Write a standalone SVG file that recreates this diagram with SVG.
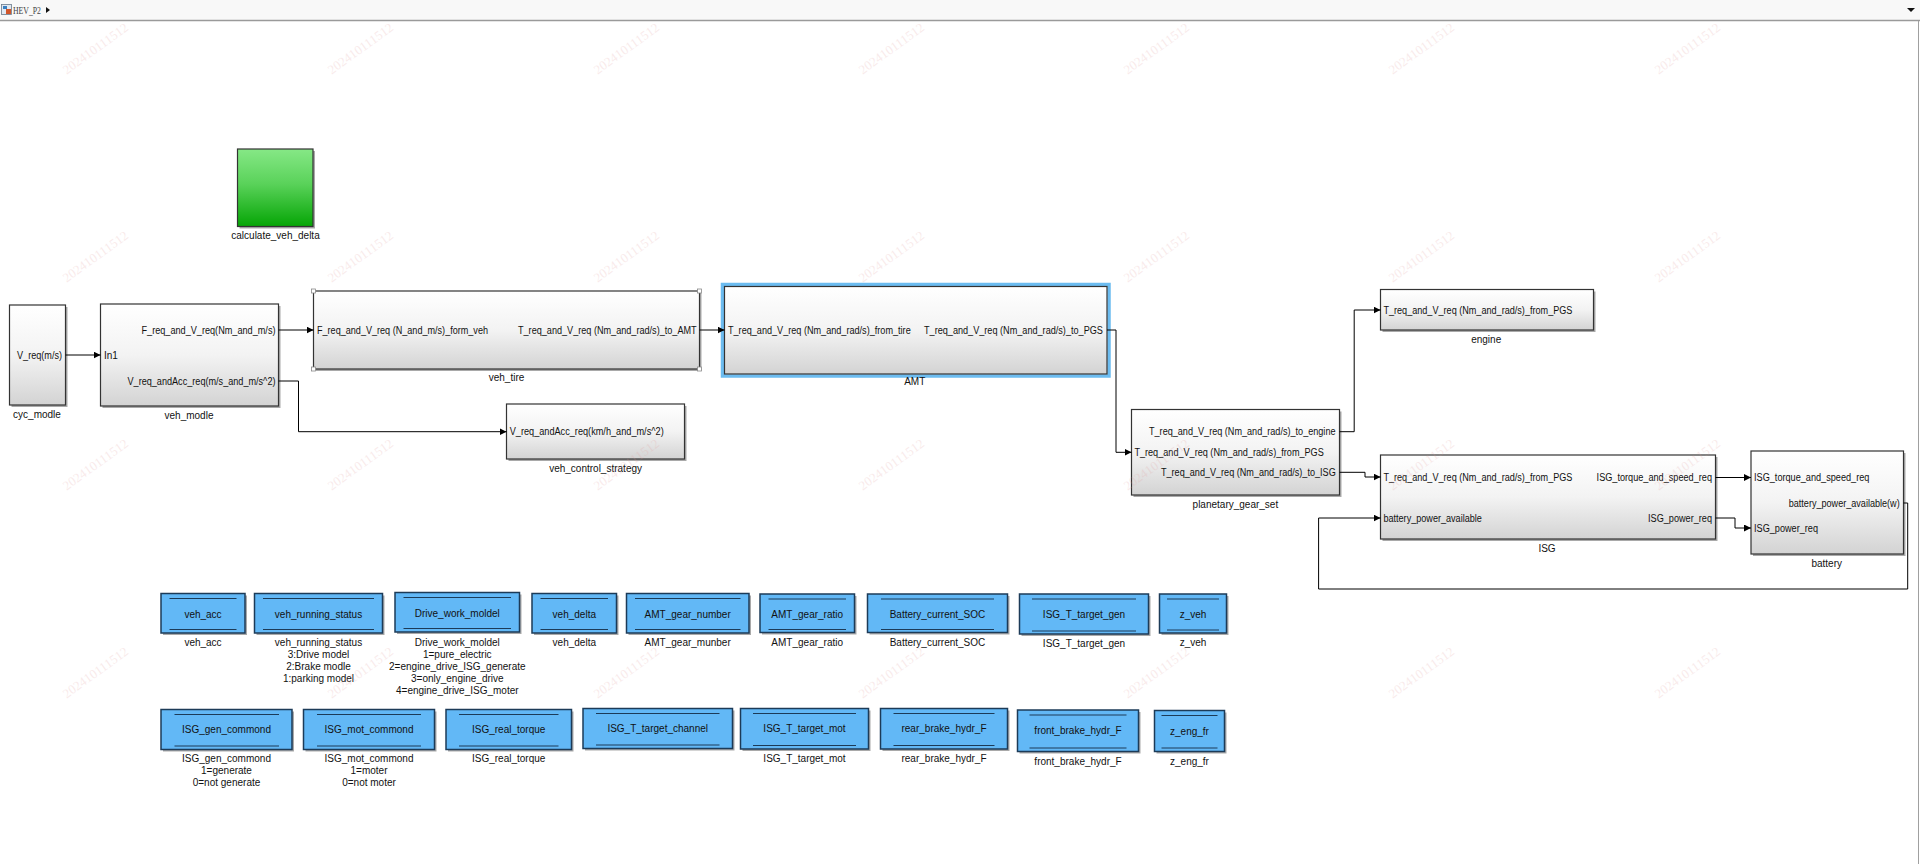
<svg xmlns="http://www.w3.org/2000/svg" width="1920" height="864" viewBox="0 0 1920 864">
<defs>
<linearGradient id="gg" x1="0" y1="0" x2="0" y2="1">
<stop offset="0" stop-color="#ffffff"/>
<stop offset="0.5" stop-color="#f3f3f3"/>
<stop offset="1" stop-color="#d3d3d3"/>
</linearGradient>
<linearGradient id="gr" x1="0" y1="0" x2="0" y2="1">
<stop offset="0" stop-color="#86e886"/>
<stop offset="0.45" stop-color="#5ad25a"/>
<stop offset="1" stop-color="#05a505"/>
</linearGradient>
<marker id="ar" markerWidth="8" markerHeight="7" refX="7" refY="3.5" orient="auto" markerUnits="userSpaceOnUse">
<path d="M0,0 L7,3.5 L0,7 z" fill="#000"/>
</marker>
<style>
.blk{fill:url(#gg);stroke:#333;stroke-width:1.2}
.sh{fill:#a9a9a9}
.t{font-family:"Liberation Sans",Arial,sans-serif;font-size:10px;fill:#111}
.c{text-anchor:middle}
.ds{fill:#62b8f6;stroke:#1c3b58;stroke-width:1.5}
.dl{stroke:#1c3b58;stroke-width:1.2}
.w{stroke:#000;fill:none;stroke-width:1;marker-end:url(#ar)}
.wm{font-family:"Liberation Serif",serif;font-size:13px;fill:#e29a9a;opacity:0.2;text-anchor:middle}
.hd{fill:#fff;stroke:#888;stroke-width:0.8}
</style>
</defs>
<rect x="0" y="0" width="1920" height="864" fill="#ffffff"/>
<g id="title-bar">
<rect x="0" y="0" width="1920" height="20" fill="#f8f8f8"/>
<line x1="0" y1="20.5" x2="1920" y2="20.5" stroke="#9a9a9a" stroke-width="1.5"/>
<rect x="1.5" y="4.5" width="10" height="10" fill="#dfe8f2" stroke="#6a7a8a" stroke-width="0.8"/>
<rect x="3" y="6" width="4" height="3" fill="#3a7fc0"/>
<rect x="6" y="9" width="5" height="5" fill="#d2552a"/>
<text x="13" y="14" font-family="Liberation Serif,serif" font-size="10" fill="#444" textLength="28" lengthAdjust="spacingAndGlyphs">HEV_P2</text>
<path d="M46,7 L50,10 L46,13 z" fill="#111"/>
<path d="M1907,8 L1915,8 L1911,12 z" fill="#111"/>
<line x1="1918.5" y1="21" x2="1918.5" y2="864" stroke="#a0a0a0" stroke-width="1"/>
</g>
<g id="calculate_veh_delta">
<rect x="239.5" y="151" width="75.5" height="77.5" class="sh"/>
<rect x="237.5" y="149" width="75.5" height="77.5" fill="url(#gr)" stroke="#333" stroke-width="1.2"/>
<text x="275.5" y="238.5" class="t c">calculate_veh_delta</text>
</g>
<g id="cyc_modle">
<rect x="11.5" y="307" width="56" height="100" class="sh"/>
<rect x="9.5" y="305" width="56" height="100" class="blk"/>
<text x="17" y="358.5" class="t" textLength="45" lengthAdjust="spacingAndGlyphs">V_req(m/s)</text>
<text x="37" y="417.5" class="t c">cyc_modle</text>
</g>
<g id="veh_modle">
<rect x="102.5" y="306" width="178" height="102" class="sh"/>
<rect x="100.5" y="304" width="178" height="102" class="blk"/>
<text x="104" y="359" class="t">In1</text>
<text x="141.5" y="333.5" class="t" textLength="134" lengthAdjust="spacingAndGlyphs">F_req_and_V_req(Nm_and_m/s)</text>
<text x="127.5" y="384.5" class="t" textLength="148" lengthAdjust="spacingAndGlyphs">V_req_andAcc_req(m/s_and_m/s^2)</text>
<text x="189" y="419" class="t c">veh_modle</text>
</g>
<g id="veh_tire">
<rect x="315.5" y="293" width="386" height="78" class="sh"/>
<rect x="313.5" y="291" width="386" height="78" class="blk"/>
<rect x="311.5" y="289" width="4" height="4" class="hd"/>
<rect x="697.5" y="289" width="4" height="4" class="hd"/>
<rect x="311.5" y="367" width="4" height="4" class="hd"/>
<rect x="697.5" y="367" width="4" height="4" class="hd"/>
<text x="317" y="333.5" class="t" textLength="171" lengthAdjust="spacingAndGlyphs">F_req_and_V_req (N_and_m/s)_form_veh</text>
<text x="518" y="333.5" class="t" textLength="178.6" lengthAdjust="spacingAndGlyphs">T_req_and_V_req (Nm_and_rad/s)_to_AMT</text>
<text x="506.5" y="381" class="t c">veh_tire</text>
</g>
<g id="veh_control_strategy">
<rect x="508.5" y="406" width="178" height="55" class="sh"/>
<rect x="506.5" y="404" width="178" height="55" class="blk"/>
<text x="509.7" y="435.2" class="t" textLength="154" lengthAdjust="spacingAndGlyphs">V_req_andAcc_req(km/h_and_m/s^2)</text>
<text x="595.6" y="472" class="t c">veh_control_strategy</text>
</g>
<g id="AMT">
<rect x="722.5" y="284.5" width="386.5" height="91.5" fill="none" stroke="#6cbcf0" stroke-width="3.5"/>
<rect x="724.5" y="286.5" width="382.5" height="87.5" class="blk" stroke="#1d4666"/>
<text x="728" y="333.5" class="t" textLength="182.7" lengthAdjust="spacingAndGlyphs">T_req_and_V_req (Nm_and_rad/s)_from_tire</text>
<text x="924" y="333.5" class="t" textLength="178.9" lengthAdjust="spacingAndGlyphs">T_req_and_V_req (Nm_and_rad/s)_to_PGS</text>
<text x="914.7" y="385" class="t c">AMT</text>
</g>
<g id="planetary_gear_set">
<rect x="1133.5" y="411.5" width="208" height="85.5" class="sh"/>
<rect x="1131.5" y="409.5" width="208" height="85.5" class="blk"/>
<text x="1149" y="435.2" class="t" textLength="186.5" lengthAdjust="spacingAndGlyphs">T_req_and_V_req (Nm_and_rad/s)_to_engine</text>
<text x="1134.4" y="455.8" class="t" textLength="189.4" lengthAdjust="spacingAndGlyphs">T_req_and_V_req (Nm_and_rad/s)_from_PGS</text>
<text x="1161" y="475.8" class="t" textLength="174.7" lengthAdjust="spacingAndGlyphs">T_req_and_V_req (Nm_and_rad/s)_to_ISG</text>
<text x="1235.4" y="507.5" class="t c">planetary_gear_set</text>
</g>
<g id="engine">
<rect x="1382.5" y="291.5" width="213" height="40.5" class="sh"/>
<rect x="1380.5" y="289.5" width="213" height="40.5" class="blk"/>
<text x="1383.4" y="313.5" class="t" textLength="189" lengthAdjust="spacingAndGlyphs">T_req_and_V_req (Nm_and_rad/s)_from_PGS</text>
<text x="1486.2" y="342.5" class="t c">engine</text>
</g>
<g id="ISG">
<rect x="1382.5" y="457" width="335" height="84" class="sh"/>
<rect x="1380.5" y="455" width="335" height="84" class="blk"/>
<text x="1383.4" y="480.5" class="t" textLength="189" lengthAdjust="spacingAndGlyphs">T_req_and_V_req (Nm_and_rad/s)_from_PGS</text>
<text x="1596.6" y="480.5" class="t" textLength="115.4" lengthAdjust="spacingAndGlyphs">ISG_torque_and_speed_req</text>
<text x="1383.4" y="521.5" class="t" textLength="98.5" lengthAdjust="spacingAndGlyphs">battery_power_available</text>
<text x="1648" y="521.5" class="t" textLength="64" lengthAdjust="spacingAndGlyphs">ISG_power_req</text>
<text x="1547" y="552" class="t c">ISG</text>
</g>
<g id="battery">
<rect x="1753" y="453" width="152.5" height="103" class="sh"/>
<rect x="1751" y="451" width="152.5" height="103" class="blk"/>
<text x="1754" y="481" class="t" textLength="115.4" lengthAdjust="spacingAndGlyphs">ISG_torque_and_speed_req</text>
<text x="1788.7" y="506.5" class="t" textLength="111" lengthAdjust="spacingAndGlyphs">battery_power_available(w)</text>
<text x="1754" y="531.5" class="t" textLength="64" lengthAdjust="spacingAndGlyphs">ISG_power_req</text>
<text x="1826.7" y="567" class="t c">battery</text>
</g>
<g id="connectors">
<path class="w" d="M65.5,355 H100.5"/>
<path class="w" d="M278.5,330 H313.5"/>
<path class="w" d="M278.5,381 H298.5 V431.7 H506.5"/>
<path class="w" d="M699.5,330 H724.5"/>
<path class="w" d="M1107,330 H1116 V452.3 H1131.5"/>
<path class="w" d="M1339.5,431.7 H1354.2 V310 H1380.5"/>
<path class="w" d="M1339.5,472.3 H1365 V477 H1380.5"/>
<path class="w" d="M1715.5,477.5 H1751"/>
<path class="w" d="M1715.5,518 H1735 V528 H1751"/>
<path class="w" d="M1903.5,503 H1907.7 V589 H1318.6 V518 H1380.5"/>
</g>
<g id="veh_acc">
<rect x="163" y="595.5" width="84" height="39.5" class="sh"/>
<rect x="161" y="593.5" width="84" height="39.5" class="ds"/>
<line x1="169.5" y1="598.5" x2="236.5" y2="598.5" class="dl"/>
<line x1="169.5" y1="629.5" x2="236.5" y2="629.5" class="dl"/>
<text x="203" y="617.5" class="t c">veh_acc</text>
<text x="203" y="645.8" class="t c">veh_acc</text>
</g>
<g id="veh_running_status">
<rect x="256.5" y="595.5" width="128" height="39.5" class="sh"/>
<rect x="254.5" y="593.5" width="128" height="39.5" class="ds"/>
<line x1="263" y1="598.5" x2="374" y2="598.5" class="dl"/>
<line x1="263" y1="629.5" x2="374" y2="629.5" class="dl"/>
<text x="318.5" y="617.5" class="t c">veh_running_status</text>
<text x="318.5" y="645.8" class="t c">veh_running_status</text>
<text x="318.5" y="657.9" class="t c">3:Drive model</text>
<text x="318.5" y="670" class="t c">2:Brake modle</text>
<text x="318.5" y="682.1" class="t c">1:parking model</text>
</g>
<g id="Drive_work_moldel">
<rect x="397" y="594.5" width="124.5" height="39.5" class="sh"/>
<rect x="395" y="592.5" width="124.5" height="39.5" class="ds"/>
<line x1="403.5" y1="597.5" x2="511" y2="597.5" class="dl"/>
<line x1="403.5" y1="628.5" x2="511" y2="628.5" class="dl"/>
<text x="457.3" y="616.8" class="t c">Drive_work_moldel</text>
<text x="457.3" y="645.8" class="t c">Drive_work_moldel</text>
<text x="457.3" y="657.9" class="t c">1=pure_electric</text>
<text x="457.3" y="670" class="t c">2=engine_drive_ISG_generate</text>
<text x="457.3" y="682.1" class="t c">3=only_engine_drive</text>
<text x="457.3" y="694.2" class="t c">4=engine_drive_ISG_moter</text>
</g>
<g id="veh_delta">
<rect x="534" y="595.5" width="84.5" height="39.5" class="sh"/>
<rect x="532" y="593.5" width="84.5" height="39.5" class="ds"/>
<line x1="540.5" y1="598.5" x2="608" y2="598.5" class="dl"/>
<line x1="540.5" y1="629.5" x2="608" y2="629.5" class="dl"/>
<text x="574.3" y="617.5" class="t c">veh_delta</text>
<text x="574.3" y="645.8" class="t c">veh_delta</text>
</g>
<g id="AMT_gear_number">
<rect x="628.5" y="595.5" width="122.5" height="39.5" class="sh"/>
<rect x="626.5" y="593.5" width="122.5" height="39.5" class="ds"/>
<line x1="635" y1="598.5" x2="740.5" y2="598.5" class="dl"/>
<line x1="635" y1="629.5" x2="740.5" y2="629.5" class="dl"/>
<text x="687.7" y="617.5" class="t c">AMT_gear_number</text>
<text x="687.7" y="645.8" class="t c">AMT_gear_munber</text>
</g>
<g id="AMT_gear_ratio">
<rect x="762" y="596" width="94.5" height="38.5" class="sh"/>
<rect x="760" y="594" width="94.5" height="38.5" class="ds"/>
<line x1="768.5" y1="599" x2="846" y2="599" class="dl"/>
<line x1="768.5" y1="629.5" x2="846" y2="629.5" class="dl"/>
<text x="807.2" y="617.5" class="t c">AMT_gear_ratio</text>
<text x="807.2" y="645.8" class="t c">AMT_gear_ratio</text>
</g>
<g id="Battery_current_SOC">
<rect x="869.5" y="596" width="140" height="38.5" class="sh"/>
<rect x="867.5" y="594" width="140" height="38.5" class="ds"/>
<line x1="881" y1="599" x2="994" y2="599" class="dl"/>
<line x1="881" y1="629.5" x2="994" y2="629.5" class="dl"/>
<text x="937.5" y="617.5" class="t c">Battery_current_SOC</text>
<text x="937.5" y="645.8" class="t c">Battery_current_SOC</text>
</g>
<g id="ISG_T_target_gen">
<rect x="1021.5" y="596" width="129" height="40" class="sh"/>
<rect x="1019.5" y="594" width="129" height="40" class="ds"/>
<line x1="1032" y1="599" x2="1136" y2="599" class="dl"/>
<line x1="1032" y1="631" x2="1136" y2="631" class="dl"/>
<text x="1084" y="617.8" class="t c">ISG_T_target_gen</text>
<text x="1084" y="646.8" class="t c">ISG_T_target_gen</text>
</g>
<g id="z_veh">
<rect x="1161.5" y="596" width="67" height="39" class="sh"/>
<rect x="1159.5" y="594" width="67" height="39" class="ds"/>
<line x1="1167" y1="599" x2="1219" y2="599" class="dl"/>
<line x1="1167" y1="630" x2="1219" y2="630" class="dl"/>
<text x="1193" y="617.5" class="t c">z_veh</text>
<text x="1193" y="646.3" class="t c">z_veh</text>
</g>
<g id="ISG_gen_commond">
<rect x="163" y="711.5" width="131" height="40" class="sh"/>
<rect x="161" y="709.5" width="131" height="40" class="ds"/>
<line x1="174.5" y1="714.5" x2="279" y2="714.5" class="dl"/>
<line x1="174.5" y1="746" x2="279" y2="746" class="dl"/>
<text x="226.5" y="732.8" class="t c">ISG_gen_commond</text>
<text x="226.5" y="761.8" class="t c">ISG_gen_commond</text>
<text x="226.5" y="774" class="t c">1=generate</text>
<text x="226.5" y="786.2" class="t c">0=not generate</text>
</g>
<g id="ISG_mot_commond">
<rect x="305.5" y="711.5" width="131" height="40" class="sh"/>
<rect x="303.5" y="709.5" width="131" height="40" class="ds"/>
<line x1="317" y1="714.5" x2="421" y2="714.5" class="dl"/>
<line x1="317" y1="746" x2="421" y2="746" class="dl"/>
<text x="369" y="732.8" class="t c">ISG_mot_commond</text>
<text x="369" y="761.8" class="t c">ISG_mot_commond</text>
<text x="369" y="774" class="t c">1=moter</text>
<text x="369" y="786.2" class="t c">0=not moter</text>
</g>
<g id="ISG_real_torque">
<rect x="448" y="711.5" width="125.5" height="40" class="sh"/>
<rect x="446" y="709.5" width="125.5" height="40" class="ds"/>
<line x1="459" y1="714.5" x2="558.5" y2="714.5" class="dl"/>
<line x1="459" y1="746" x2="558.5" y2="746" class="dl"/>
<text x="508.7" y="732.8" class="t c">ISG_real_torque</text>
<text x="508.7" y="761.8" class="t c">ISG_real_torque</text>
</g>
<g id="ISG_T_target_channel">
<rect x="585" y="710.5" width="149.5" height="40" class="sh"/>
<rect x="583" y="708.5" width="149.5" height="40" class="ds"/>
<line x1="596" y1="713.5" x2="719.5" y2="713.5" class="dl"/>
<line x1="596" y1="745" x2="719.5" y2="745" class="dl"/>
<text x="657.7" y="732" class="t c">ISG_T_target_channel</text>
</g>
<g id="ISG_T_target_mot">
<rect x="742.5" y="710.5" width="128" height="40.5" class="sh"/>
<rect x="740.5" y="708.5" width="128" height="40.5" class="ds"/>
<line x1="753" y1="713.5" x2="856" y2="713.5" class="dl"/>
<line x1="753" y1="745.5" x2="856" y2="745.5" class="dl"/>
<text x="804.5" y="732.3" class="t c">ISG_T_target_mot</text>
<text x="804.5" y="761.8" class="t c">ISG_T_target_mot</text>
</g>
<g id="rear_brake_hydr_F">
<rect x="882.5" y="710.5" width="127" height="40.5" class="sh"/>
<rect x="880.5" y="708.5" width="127" height="40.5" class="ds"/>
<line x1="893.5" y1="713.5" x2="994.5" y2="713.5" class="dl"/>
<line x1="893.5" y1="745.5" x2="994.5" y2="745.5" class="dl"/>
<text x="944" y="732.3" class="t c">rear_brake_hydr_F</text>
<text x="944" y="761.8" class="t c">rear_brake_hydr_F</text>
</g>
<g id="front_brake_hydr_F">
<rect x="1019.5" y="712" width="121" height="41.5" class="sh"/>
<rect x="1017.5" y="710" width="121" height="41.5" class="ds"/>
<line x1="1029.5" y1="715" x2="1126.5" y2="715" class="dl"/>
<line x1="1029.5" y1="748" x2="1126.5" y2="748" class="dl"/>
<text x="1078" y="733.5" class="t c">front_brake_hydr_F</text>
<text x="1078" y="764.5" class="t c">front_brake_hydr_F</text>
</g>
<g id="z_eng_fr">
<rect x="1156.5" y="712.5" width="70" height="41" class="sh"/>
<rect x="1154.5" y="710.5" width="70" height="41" class="ds"/>
<line x1="1161.5" y1="715.5" x2="1217.5" y2="715.5" class="dl"/>
<line x1="1161.5" y1="748" x2="1217.5" y2="748" class="dl"/>
<text x="1189.5" y="734.5" class="t c">z_eng_fr</text>
<text x="1189.5" y="764.5" class="t c">z_eng_fr</text>
</g>
<g id="watermark">
<text class="wm" transform="translate(98,52) rotate(-36)">202410111512</text>
<text class="wm" transform="translate(363,52) rotate(-36)">202410111512</text>
<text class="wm" transform="translate(629,52) rotate(-36)">202410111512</text>
<text class="wm" transform="translate(894,52) rotate(-36)">202410111512</text>
<text class="wm" transform="translate(1159,52) rotate(-36)">202410111512</text>
<text class="wm" transform="translate(1424,52) rotate(-36)">202410111512</text>
<text class="wm" transform="translate(1690,52) rotate(-36)">202410111512</text>
<text class="wm" transform="translate(98,260) rotate(-36)">202410111512</text>
<text class="wm" transform="translate(363,260) rotate(-36)">202410111512</text>
<text class="wm" transform="translate(629,260) rotate(-36)">202410111512</text>
<text class="wm" transform="translate(894,260) rotate(-36)">202410111512</text>
<text class="wm" transform="translate(1159,260) rotate(-36)">202410111512</text>
<text class="wm" transform="translate(1424,260) rotate(-36)">202410111512</text>
<text class="wm" transform="translate(1690,260) rotate(-36)">202410111512</text>
<text class="wm" transform="translate(98,468) rotate(-36)">202410111512</text>
<text class="wm" transform="translate(363,468) rotate(-36)">202410111512</text>
<text class="wm" transform="translate(629,468) rotate(-36)">202410111512</text>
<text class="wm" transform="translate(894,468) rotate(-36)">202410111512</text>
<text class="wm" transform="translate(1159,468) rotate(-36)">202410111512</text>
<text class="wm" transform="translate(1424,468) rotate(-36)">202410111512</text>
<text class="wm" transform="translate(1690,468) rotate(-36)">202410111512</text>
<text class="wm" transform="translate(98,676) rotate(-36)">202410111512</text>
<text class="wm" transform="translate(363,676) rotate(-36)">202410111512</text>
<text class="wm" transform="translate(629,676) rotate(-36)">202410111512</text>
<text class="wm" transform="translate(894,676) rotate(-36)">202410111512</text>
<text class="wm" transform="translate(1159,676) rotate(-36)">202410111512</text>
<text class="wm" transform="translate(1424,676) rotate(-36)">202410111512</text>
<text class="wm" transform="translate(1690,676) rotate(-36)">202410111512</text>
</g>
</svg>
